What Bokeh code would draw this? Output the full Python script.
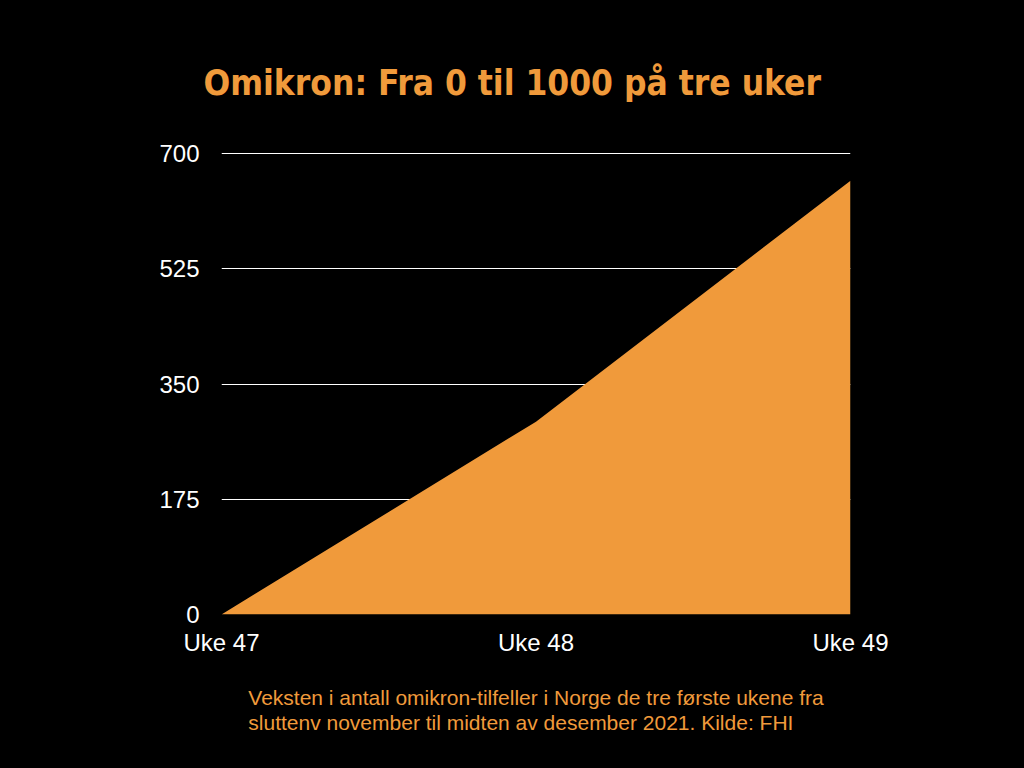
from bokeh.plotting import figure
from bokeh.models import Range1d, FixedTicker, Title, ColumnDataSource
from bokeh.embed import file_html
from bokeh.resources import INLINE

weeks = ["Uke 47", "Uke 48", "Uke 49"]
cases = [0, 293, 659]
y_ticks = [0, 175, 350, 525, 700]
title_text = "Omikron: Fra 0 til 1000 på tre uker"
caption_lines = [
    "Veksten i antall omikron-tilfeller i Norge de tre første ukene fra",
    "sluttenv november til midten av desember 2021. Kilde: FHI",
]

ORANGE = "#F09A3B"

x_pos = list(range(len(weeks)))
src = ColumnDataSource(dict(x=x_pos, y=cases, base=[0] * len(cases)))

p = figure(width=1024, height=768, output_backend="svg", toolbar_location=None,
           x_range=Range1d(0, len(weeks) - 1), y_range=Range1d(0, 702),
           min_border_left=221, min_border_right=174, min_border_top=152,
           min_border_bottom=154)
p.background_fill_color = "black"
p.border_fill_color = "black"
p.outline_line_color = None

p.varea(x="x", y1="base", y2="y", source=src, fill_color=ORANGE)

p.xaxis.ticker = FixedTicker(ticks=x_pos)
p.xaxis.major_label_overrides = {i: w for i, w in enumerate(weeks)}
p.yaxis.ticker = FixedTicker(ticks=y_ticks)
for ax in (p.xaxis, p.yaxis):
    ax.axis_line_color = None
    ax.major_tick_line_color = None
    ax.minor_tick_line_color = None
    ax.major_label_text_color = "white"
    ax.major_label_text_font = "Liberation Sans"
    ax.major_label_text_font_size = "24px"
p.yaxis.major_label_standoff = 16
p.xaxis.major_label_standoff = 8

p.xgrid.grid_line_color = None
p.ygrid.grid_line_color = "white"
p.ygrid.grid_line_width = 1

p.title = Title(text=title_text, align="left", offset=-18,
                text_color=ORANGE,
                text_font="'DejaVu Sans Condensed', 'DejaVu Sans', sans-serif",
                text_font_style="bold", text_font_size="35px", standoff=100)

caption = Title(text="\n".join(caption_lines), align="center",
                text_color=ORANGE, text_font="Liberation Sans",
                text_font_style="normal", text_font_size="21px",
                text_line_height=1.1, standoff=52)
p.add_layout(caption, "below")

html = file_html(p, INLINE)
html = html.replace("</head>", "<style>html,body{background:#000;margin:0;}</style></head>", 1)
open("out.html", "w").write(html)
